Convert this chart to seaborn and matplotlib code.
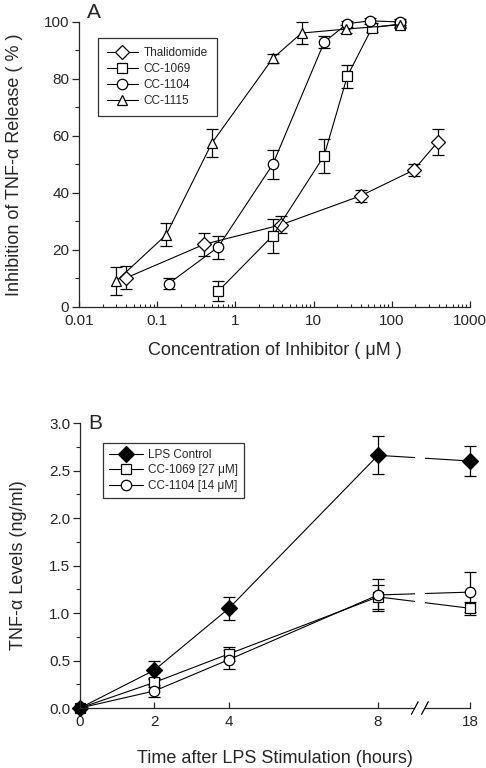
import matplotlib
matplotlib.use("Agg")
import matplotlib.pyplot as plt
import matplotlib.transforms as mtransforms
from matplotlib.ticker import MultipleLocator, LogLocator, NullFormatter, FixedLocator
import numpy as np
import pandas as pd
import seaborn as sns

# Panel A - inhibition of TNF-alpha release vs. concentration
a_names = ["Thalidomide", "CC-1069", "CC-1104", "CC-1115"]
a_markers = {"Thalidomide": "D", "CC-1069": "s", "CC-1104": "o", "CC-1115": "^"}

thal_x = [0.04, 0.40, 3.8, 40, 190, 390]
thal_y = [10.2, 22, 28.8, 39, 48, 58]
thal_e = [4, 4, 3, 2.2, 2, 4.6]

cc1069_x = [0.6, 3, 13.6, 27, 56, 127]
cc1069_y = [5.5, 25, 53, 81, 98, 99.3]
cc1069_e = [3.5, 6, 6, 4, 1.5, 1]

cc1104_x = [0.14, 0.6, 3, 13.7, 27, 53, 127]
cc1104_y = [8.2, 21, 50, 93, 99.4, 100.4, 100]
cc1104_e = [2, 4, 5, 2, 1, 1, 1]

cc1115_x = [0.03, 0.13, 0.5, 3, 7, 26, 127]
cc1115_y = [9.1, 25.3, 57.5, 87.2, 96.1, 97.5, 99]
cc1115_e = [5, 4, 5, 1.5, 4, 1.5, 1]

# Panel B - TNF-alpha levels vs. time after LPS stimulation
b_names = ["LPS Control", "CC-1069 [27 \u03bcM]", "CC-1104 [14 \u03bcM]"]
b_markers = {b_names[0]: "D", b_names[1]: "s", b_names[2]: "o"}
hours = [0, 2, 4, 8, 18]
lps_y = [0.0, 0.40, 1.05, 2.66, 2.60]
lps_e = [0.0, 0.09, 0.12, 0.20, 0.16]
c1069_y = [0.0, 0.27, 0.57, 1.17, 1.05]
c1069_e = [0.0, 0.05, 0.07, 0.13, 0.07]
c1104_y = [0.0, 0.18, 0.51, 1.19, 1.22]
c1104_e = [0.0, 0.06, 0.10, 0.17, 0.21]
hour_ticks = [0, 2, 4, 8, 18]

# build long tables
dfa = pd.concat([
    pd.DataFrame({"conc": x, "inh": y, "err": e, "drug": n})
    for n, x, y, e in zip(a_names,
                          [thal_x, cc1069_x, cc1104_x, cc1115_x],
                          [thal_y, cc1069_y, cc1104_y, cc1115_y],
                          [thal_e, cc1069_e, cc1104_e, cc1115_e])
], ignore_index=True)

dfb = pd.concat([
    pd.DataFrame({"hours": hours, "tnf": y, "err": e, "group": n})
    for n, y, e in zip(b_names, [lps_y, c1069_y, c1104_y], [lps_e, c1069_e, c1104_e])
], ignore_index=True)

sns.set_style("ticks")
plt.rcParams["font.family"] = ["Liberation Sans", "DejaVu Sans"]
plt.rcParams["axes.linewidth"] = 0.9
plt.rcParams["xtick.major.width"] = 0.9
plt.rcParams["ytick.major.width"] = 0.9
plt.rcParams["xtick.minor.width"] = 0.8
plt.rcParams["ytick.minor.width"] = 0.8

fig = plt.figure(figsize=(4.86, 7.68), dpi=100)
axA = fig.add_axes([0.1626, 0.6003, 0.8045, 0.3711])
axB = fig.add_axes([0.1646, 0.0781, 0.8025, 0.3711])

black = {n: "black" for n in a_names}

# ---- Panel A ----
for n in a_names:
    d = dfa[dfa.drug == n]
    axA.errorbar(d.conc, d.inh, yerr=d.err, fmt="none", ecolor="black",
                 elinewidth=0.9, capsize=4, capthick=0.9, zorder=1.5, clip_on=False)
sns.lineplot(data=dfa, x="conc", y="inh", hue="drug", style="drug",
             hue_order=a_names, style_order=a_names, palette=black,
             markers=a_markers, dashes=False, markersize=7.5,
             markerfacecolor="white", markeredgecolor="black", markeredgewidth=0.9,
             linewidth=0.8, ax=axA, zorder=2, clip_on=False)
axA.set_xscale("log")
axA.set_xlim(0.01, 1000)
axA.set_ylim(0, 100)
axA.xaxis.set_minor_locator(LogLocator(base=10, subs=np.arange(2, 10), numticks=20))
axA.xaxis.set_minor_formatter(NullFormatter())
axA.set_xticks([0.01, 0.1, 1, 10, 100, 1000])
axA.set_xticklabels(["0.01", "0.1", "1", "10", "100", "1000"])
axA.yaxis.set_major_locator(MultipleLocator(20))
axA.yaxis.set_minor_locator(MultipleLocator(10))
axA.tick_params(axis="x", which="major", direction="in", length=4, labelsize=11, pad=5)
axA.tick_params(axis="x", which="minor", direction="in", length=2.5)
axA.tick_params(axis="y", which="major", direction="out", length=5, labelsize=11, pad=2)
axA.tick_params(axis="y", which="minor", direction="out", length=3)
sns.despine(ax=axA)
axA.set_xlabel("Concentration of Inhibitor ( \u03bcM )", fontsize=13, labelpad=10)
axA.set_ylabel("Inhibition of TNF-\u03b1 Release ( % )", fontsize=13, labelpad=15)
axA.text(0.02, 1.0, "A", transform=axA.transAxes, fontsize=15, ha="left", va="bottom")
legA = axA.legend(loc="upper left", bbox_to_anchor=(0.049, 0.944), borderaxespad=0,
                  fontsize=8.5, handlelength=2.6, handletextpad=0.5, labelspacing=0.35,
                  frameon=True, fancybox=False, edgecolor="black", borderpad=0.75)
legA.get_frame().set_linewidth(0.9)

# ---- Panel B ----
k = 0.247  # compression of the axis beyond the break


def fwd(t):
    t = np.asarray(t, dtype=float)
    return np.where(t <= 8, t, 8 + (t - 8) * k)


def inv(u):
    u = np.asarray(u, dtype=float)
    return np.where(u <= 8, u, 8 + (u - 8) / k)


axB.set_xscale("function", functions=(fwd, inv))
for n in b_names:
    d = dfb[dfb.group == n]
    axB.errorbar(d.hours, d.tnf, yerr=d.err, fmt="none", ecolor="black",
                 elinewidth=0.9, capsize=4, capthick=0.9, zorder=1.5, clip_on=False)
sns.lineplot(data=dfb, x="hours", y="tnf", hue="group", style="group",
             hue_order=b_names, style_order=b_names,
             palette={n: "black" for n in b_names},
             markers=b_markers, dashes=False, markersize=7.5,
             markeredgecolor="black", markeredgewidth=0.9,
             linewidth=0.8, ax=axB, zorder=2, clip_on=False)
# open markers for the treated groups, filled diamond for the control on top
for line in axB.get_lines():
    if line.get_marker() in ("s", "o"):
        line.set_markerfacecolor("white")
    if line.get_marker() == "D":
        line.set_markerfacecolor("black")
        line.set_markersize(8.5)
        line.set_zorder(2.2)

axB.set_xlim(0, 18)
axB.set_ylim(0, 3.0)
axB.xaxis.set_major_locator(FixedLocator(hour_ticks))
axB.xaxis.set_minor_locator(FixedLocator([]))
axB.set_xticklabels([str(h) for h in hour_ticks])
axB.yaxis.set_major_locator(MultipleLocator(0.5))
axB.yaxis.set_minor_locator(MultipleLocator(0.25))
axB.yaxis.set_major_formatter(matplotlib.ticker.FormatStrFormatter("%.1f"))
axB.tick_params(axis="x", which="major", direction="in", length=4, labelsize=11, pad=5)
axB.tick_params(axis="y", which="major", direction="out", length=5, labelsize=11, pad=2)
axB.tick_params(axis="y", which="minor", direction="out", length=3)
sns.despine(ax=axB)

# axis break
b_lo, b_hi = 12.0, 13.1
axB.axvspan(b_lo, b_hi, ymin=-0.03, ymax=1, color="white", zorder=2.6, clip_on=False, lw=0)
trans = mtransforms.blended_transform_factory(axB.transData, axB.transAxes)
for xb in (b_lo, b_hi):
    xl = float(inv(fwd(xb) - 0.09))
    xr = float(inv(fwd(xb) + 0.09))
    axB.plot([xl, xr], [-0.022, 0.022], color="black", lw=0.9, transform=trans,
             clip_on=False, zorder=3)

axB.set_xlabel("Time after LPS Stimulation (hours)", fontsize=13, labelpad=15)
axB.set_ylabel("TNF-\u03b1 Levels (ng/ml)", fontsize=13, labelpad=16)
axB.text(0.02, 1.0, "B", transform=axB.transAxes, fontsize=15, ha="left", va="center")
legB = axB.legend(loc="upper left", bbox_to_anchor=(0.059, 0.93), borderaxespad=0,
                  fontsize=8.5, handlelength=2.9, handletextpad=0.4, labelspacing=0.3,
                  frameon=True, fancybox=False, edgecolor="black", borderpad=0.5)
legB.get_frame().set_linewidth(0.9)

fig.savefig("out.png", dpi=100)
